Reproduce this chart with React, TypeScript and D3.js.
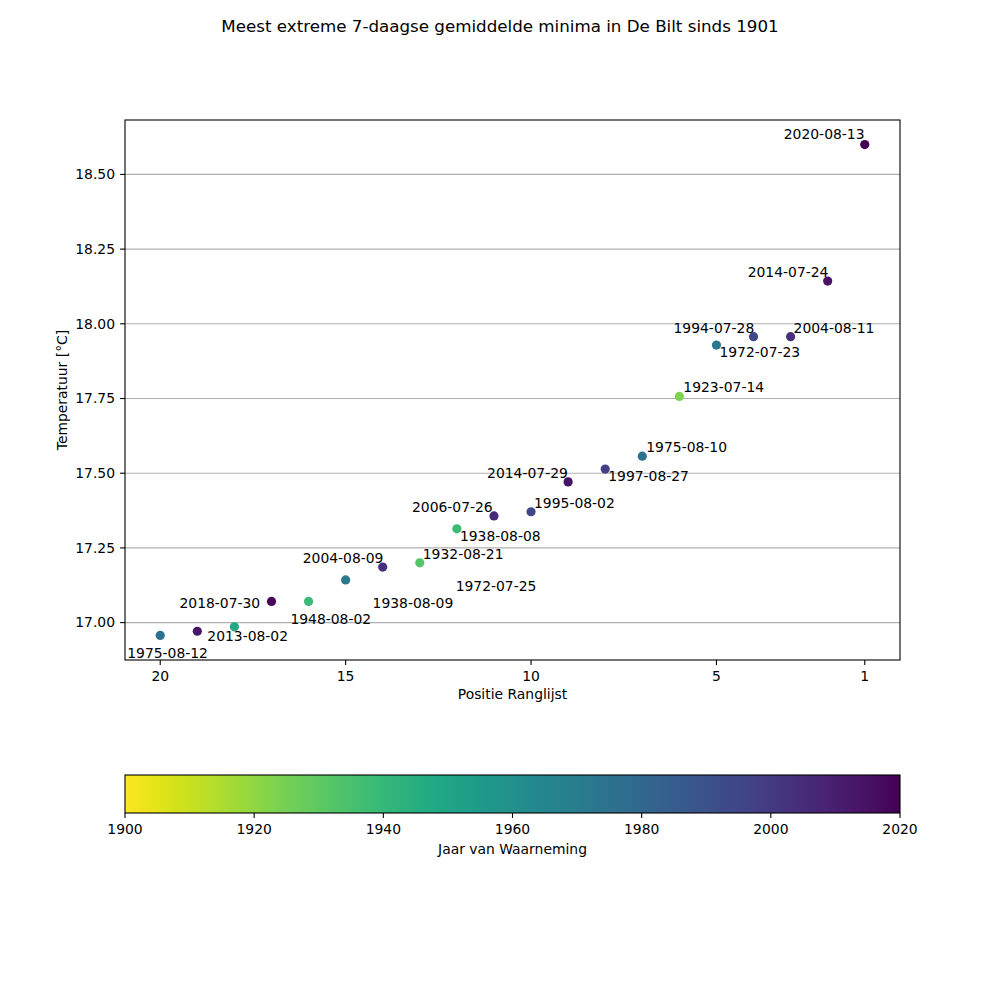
import React from 'react';
import { scaleLinear, interpolateViridis, range } from 'd3';

const dim = {
  width: 1000,
  height: 1000,
  left: 125,
  right: 900,
  top: 120,
  bottom: 660,
  cbTop: 775,
  cbBottom: 813,
};

const font = '"DejaVu Sans", Verdana, sans-serif';
const fs = 13.9;

// rang 1..20 (warmste eerst)
const ranks = range(1, 21);
const dates = [
  '2020-08-13', '2014-07-24', '2004-08-11', '1994-07-28', '1972-07-23',
  '1923-07-14', '1975-08-10', '1997-08-27', '2014-07-29', '1995-08-02',
  '2006-07-26', '1938-08-08', '1932-08-21', '2004-08-09', '1972-07-25',
  '1938-08-09', '2018-07-30', '1948-08-02', '2013-08-02', '1975-08-12',
];
const temps = [
  18.6, 18.143, 17.957, 17.957, 17.929,
  17.757, 17.557, 17.514, 17.471, 17.371,
  17.357, 17.314, 17.2, 17.186, 17.143,
  17.071, 17.071, 16.986, 16.971, 16.957,
];
const xTicks = [1, 5, 10, 15, 20];
const yTicks = [17.0, 17.25, 17.5, 17.75, 18.0, 18.25, 18.5];
const yearTicks = [1900, 1920, 1940, 1960, 1980, 2000, 2020];

// label placement (px from the point: left edge, vertical middle)
const labelOffsets = [
  [-81, -10], [-80, -9], [3, -9], [-80, -9], [3, 7],
  [4, -9], [4, -9], [3, 7], [-81, -9], [3, -9],
  [-82, -9], [3, 7], [3, -9], [-80, -9], [110, 6],
  [64, 2], [-92, 2], [56, -8], [10, 5], [-33, 18],
];

const years = dates.map((d) => +d.slice(0, 4));

const App = () => {
  const x = scaleLinear()
    .domain([20 + 0.95, 1 - 0.95])
    .range([dim.left, dim.right]);

  const tMin = Math.min(...temps);
  const tMax = Math.max(...temps);
  const pad = (tMax - tMin) * 0.05;
  const y = scaleLinear()
    .domain([tMin - pad, tMax + pad])
    .range([dim.bottom, dim.top]);

  const yearScale = scaleLinear().domain([1900, 2020]).range([dim.left, dim.right]);
  const color = (yr: number) => interpolateViridis(1 - (yr - 1900) / 120);

  const stops = range(0, 1.0001, 0.02);

  return (
    <div style={{ position: 'absolute', left: 0, top: 0 }}>
      <svg width={dim.width} height={dim.height} style={{ display: 'block', background: 'white' }} fontFamily={font}>
        <defs>
          <linearGradient id="cb" x1="0" x2="1" y1="0" y2="0">
            {stops.map((s) => (
              <stop key={s} offset={s} stopColor={interpolateViridis(1 - s)} />
            ))}
          </linearGradient>
        </defs>

        <text x={500} y={32} textAnchor="middle" fontSize={16.7}>
          Meest extreme 7-daagse gemiddelde minima in De Bilt sinds 1901
        </text>

        {/* grid */}
        {yTicks.map((t) => (
          <line key={t} x1={dim.left} x2={dim.right} y1={y(t)} y2={y(t)} stroke="#b0b0b0" strokeWidth={1.1} />
        ))}

        {/* y axis */}
        {yTicks.map((t) => (
          <g key={'y' + t}>
            <line x1={dim.left - 4.9} x2={dim.left} y1={y(t)} y2={y(t)} stroke="black" strokeWidth={1.1} />
            <text x={dim.left - 10} y={y(t)} dy="0.35em" textAnchor="end" fontSize={fs}>
              {t.toFixed(2)}
            </text>
          </g>
        ))}
        <text
          transform={`translate(62,${(dim.top + dim.bottom) / 2}) rotate(-90)`}
          textAnchor="middle"
          dy="0.35em"
          fontSize={fs}
        >
          Temperatuur [°C]
        </text>

        {/* x axis */}
        {xTicks.map((t) => (
          <g key={'x' + t}>
            <line x1={x(t)} x2={x(t)} y1={dim.bottom} y2={dim.bottom + 4.9} stroke="black" strokeWidth={1.1} />
            <text x={x(t)} y={680.5} textAnchor="middle" fontSize={fs}>
              {t}
            </text>
          </g>
        ))}
        <text x={(dim.left + dim.right) / 2} y={698.5} textAnchor="middle" fontSize={fs}>
          Positie Ranglijst
        </text>

        {/* points */}
        {ranks.map((r, i) => (
          <circle key={r} cx={x(r)} cy={y(temps[i])} r={4.6} fill={color(years[i])} />
        ))}
        {ranks.map((r, i) => (
          <text
            key={'l' + r}
            x={x(r) + labelOffsets[i][0]}
            y={y(temps[i]) + labelOffsets[i][1]}
            dy="0.35em"
            fontSize={fs}
          >
            {dates[i]}
          </text>
        ))}

        <rect
          x={dim.left}
          y={dim.top}
          width={dim.right - dim.left}
          height={dim.bottom - dim.top}
          fill="none"
          stroke="black"
          strokeWidth={1.1}
        />

        {/* colorbar */}
        <rect
          x={dim.left}
          y={dim.cbTop}
          width={dim.right - dim.left}
          height={dim.cbBottom - dim.cbTop}
          fill="url(#cb)"
          stroke="black"
          strokeWidth={1.1}
        />
        {yearTicks.map((t) => (
          <g key={'c' + t}>
            <line
              x1={yearScale(t)}
              x2={yearScale(t)}
              y1={dim.cbBottom}
              y2={dim.cbBottom + 4.9}
              stroke="black"
              strokeWidth={1.1}
            />
            <text x={yearScale(t)} y={834} textAnchor="middle" fontSize={fs}>
              {t}
            </text>
          </g>
        ))}
        <text x={(dim.left + dim.right) / 2} y={854} textAnchor="middle" fontSize={fs}>
          Jaar van Waarneming
        </text>
      </svg>
    </div>
  );
};

export default App;
